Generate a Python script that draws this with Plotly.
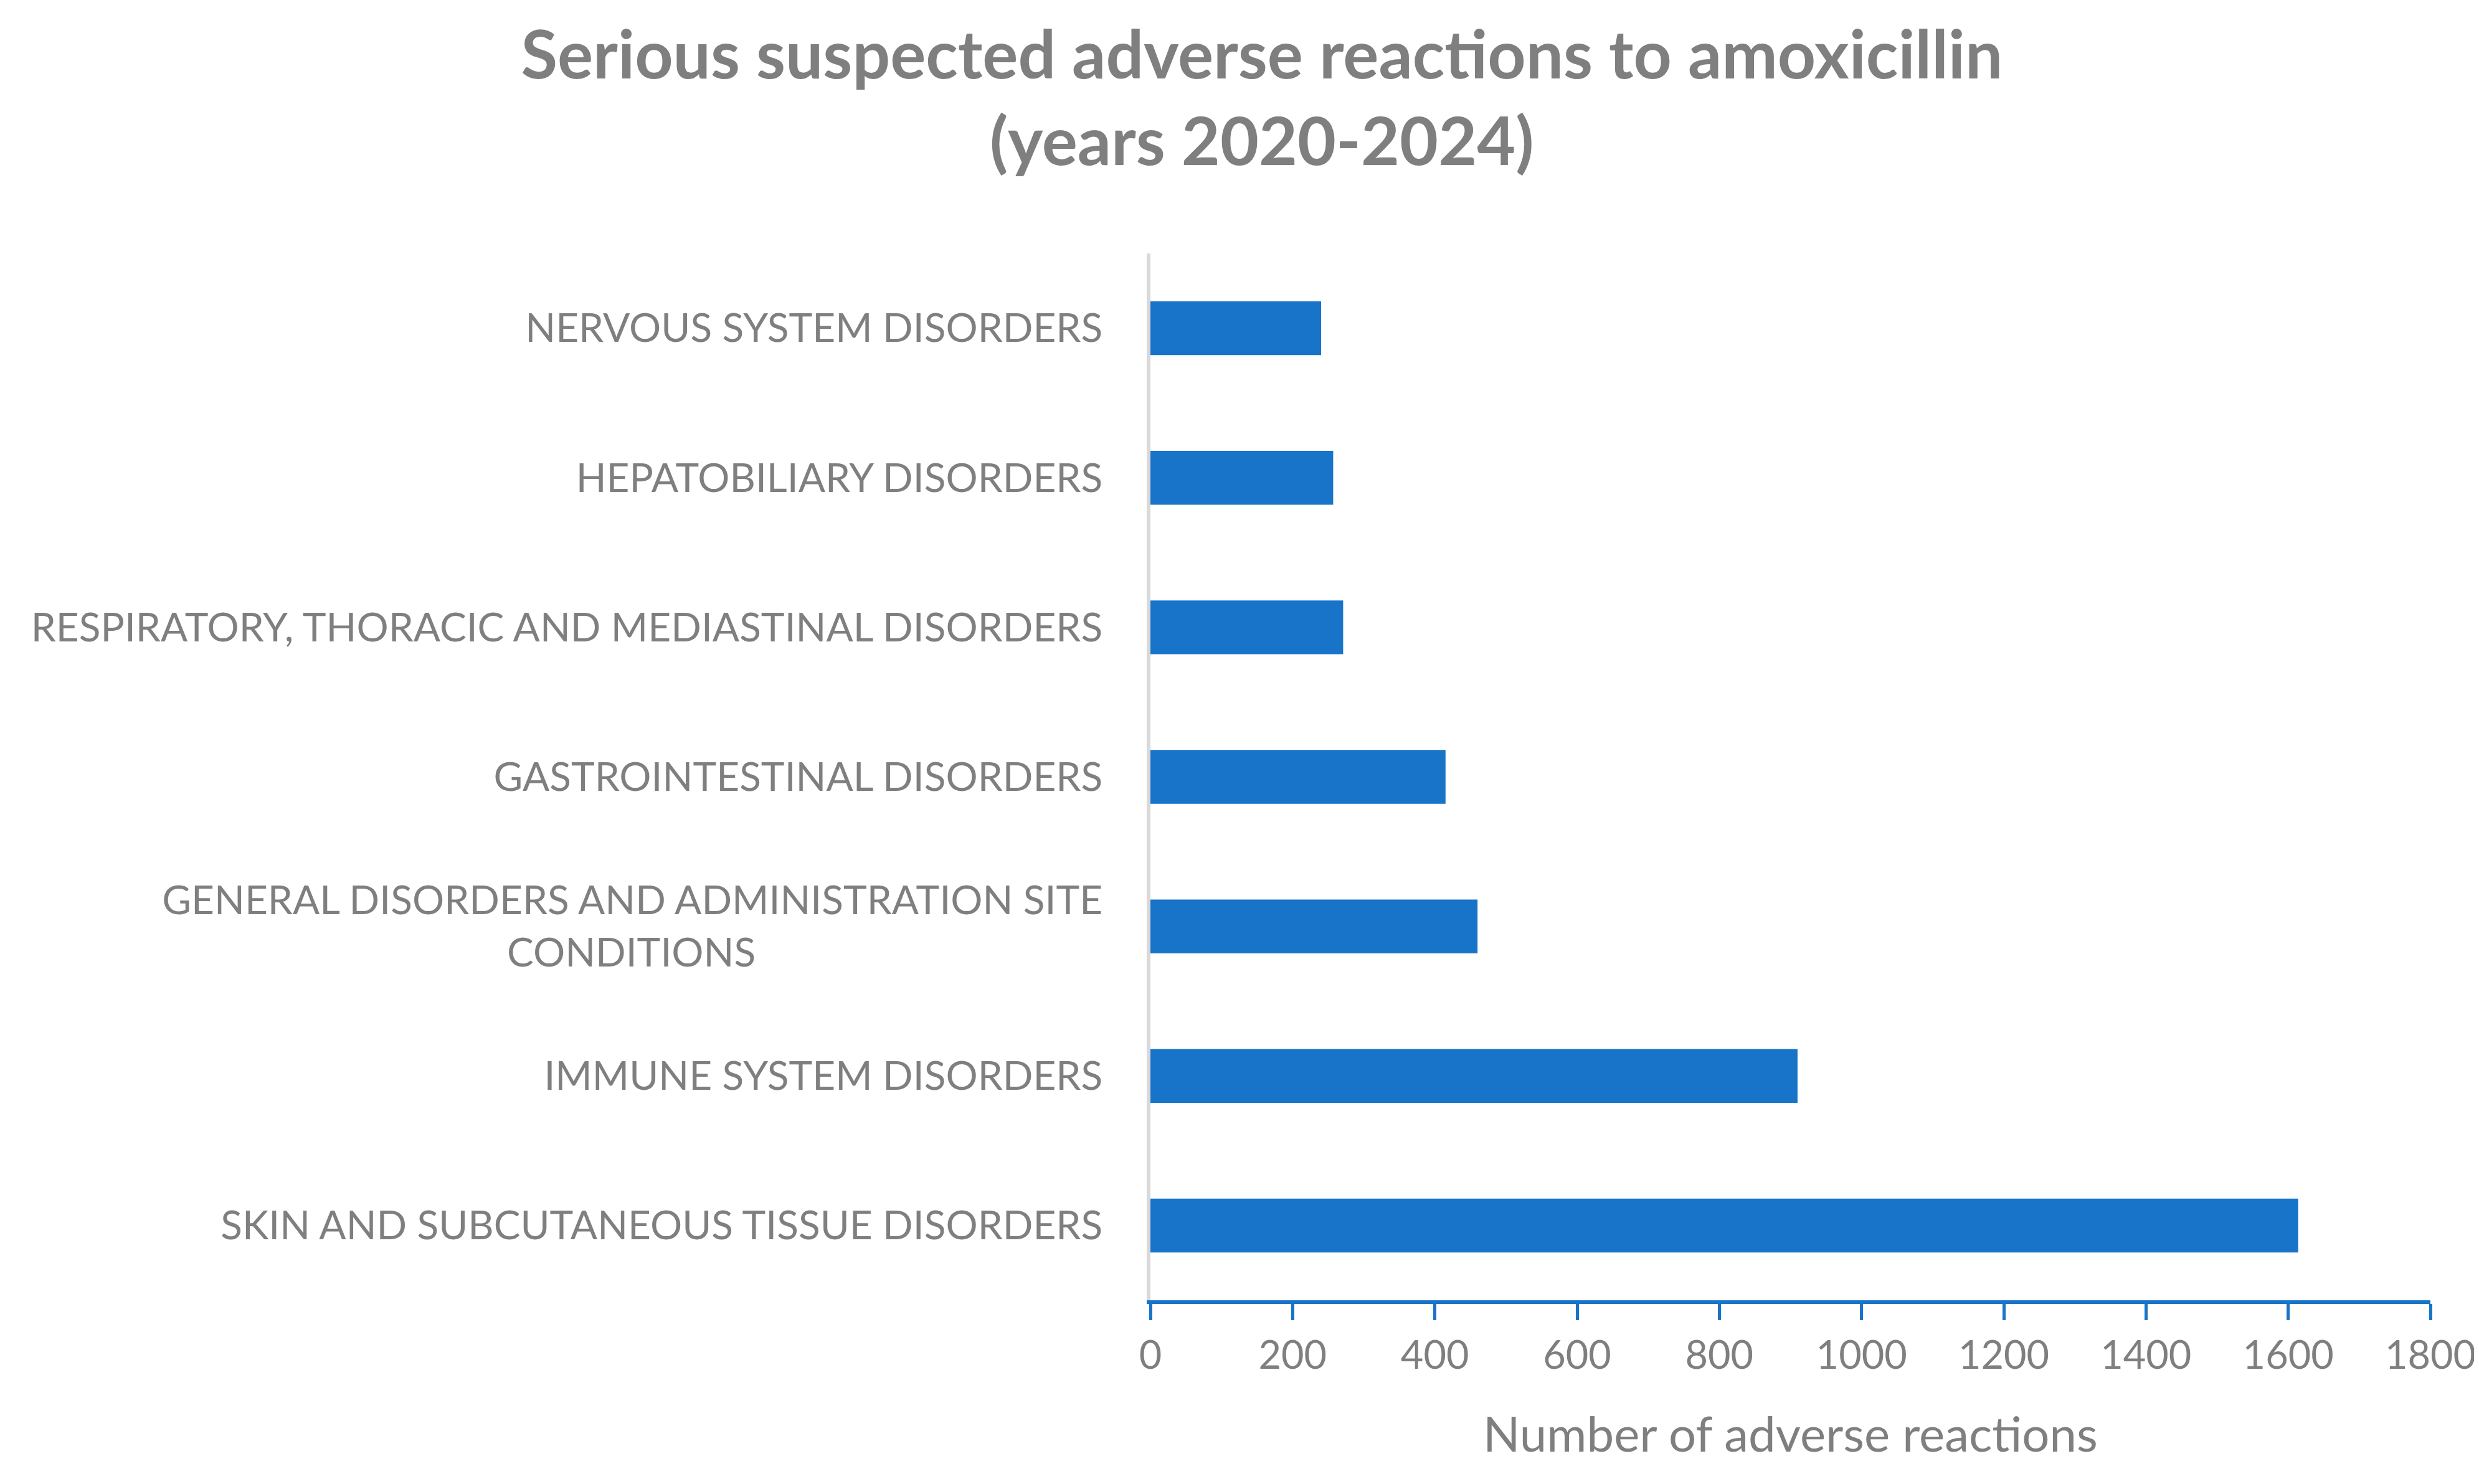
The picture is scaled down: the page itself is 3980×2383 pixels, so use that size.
import plotly.graph_objects as go

categories = [
    "SKIN AND SUBCUTANEOUS TISSUE DISORDERS",
    "IMMUNE SYSTEM DISORDERS",
    "GENERAL DISORDERS AND ADMINISTRATION SITE CONDITIONS",
    "GASTROINTESTINAL DISORDERS",
    "RESPIRATORY, THORACIC AND MEDIASTINAL DISORDERS",
    "HEPATOBILIARY DISORDERS",
    "NERVOUS SYSTEM DISORDERS",
]
values = [1614, 910, 460, 415, 271, 257, 240]
tick_labels = [
    "SKIN AND SUBCUTANEOUS TISSUE DISORDERS",
    "IMMUNE SYSTEM DISORDERS",
    "GENERAL DISORDERS AND ADMINISTRATION SITE<br>CONDITIONS" + "\u00a0" * 34,
    "GASTROINTESTINAL DISORDERS",
    "RESPIRATORY, THORACIC AND MEDIASTINAL DISORDERS",
    "HEPATOBILIARY DISORDERS",
    "NERVOUS SYSTEM DISORDERS",
]
x_ticks = [0, 200, 400, 600, 800, 1000, 1200, 1400, 1600, 1800]

GREY = "#7F7F7F"
BLUE = "#1874C8"
FONT = "Lato"

fig = go.Figure(
    go.Bar(
        x=values,
        y=categories,
        orientation="h",
        marker=dict(color=BLUE, line=dict(width=0)),
        width=0.36,
    )
)

fig.update_layout(
    width=3980,
    height=2383,
    paper_bgcolor="white",
    plot_bgcolor="white",
    margin=dict(l=1839, r=86, t=399, b=303, autoexpand=False),
    showlegend=False,
    title=dict(
        text="Serious suspected adverse reactions to amoxicillin<br>(years 2020-2024)",
        font=dict(family=FONT, size=107, color=GREY, weight="bold"),
        x=0.507,
        xanchor="center",
        xref="container",
        y=0.9505,
        yanchor="top",
        yref="container",
    ),
    font=dict(family=FONT, color=GREY),
    annotations=[
        dict(
            text="Number of adverse reactions",
            xref="paper",
            yref="paper",
            x=0.5,
            y=-0.1267,
            xanchor="center",
            yanchor="middle",
            showarrow=False,
            font=dict(family=FONT, size=78, color=GREY),
        )
    ],
)

fig.update_xaxes(
    range=[0, 1800],
    tickvals=x_ticks,
    ticktext=[str(v) for v in x_ticks],
    showgrid=False,
    zeroline=False,
    showline=True,
    linecolor=BLUE,
    linewidth=6,
    ticks="outside",
    ticklen=26,
    tickwidth=5,
    tickcolor=BLUE,
    tickfont=dict(family=FONT, size=63, color=GREY),
    ticklabelstandoff=2,
)

fig.update_yaxes(
    type="category",
    categoryorder="array",
    categoryarray=categories,
    tickvals=categories,
    ticktext=tick_labels,
    range=[-0.5, 6.5],
    showgrid=False,
    zeroline=False,
    showline=True,
    linecolor="#D9D9D9",
    linewidth=6,
    ticks="",
    tickfont=dict(family=FONT, size=64, color=GREY),
    ticklabelstandoff=58,
)

fig.write_html("out.html")
